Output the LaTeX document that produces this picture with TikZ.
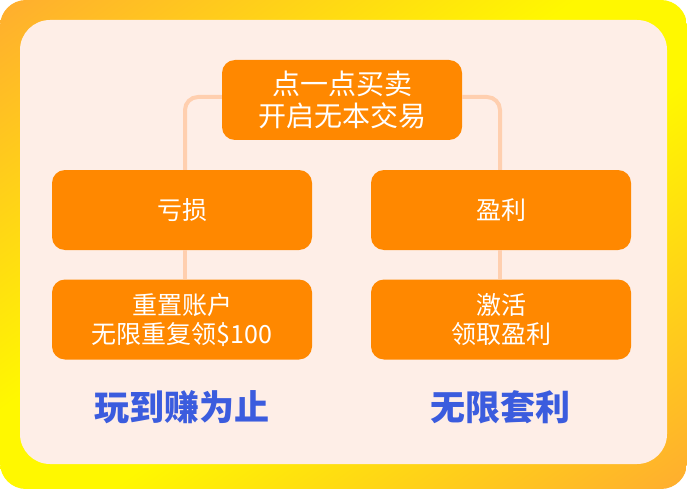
\documentclass[tikz,border=0pt]{standalone}
\usepackage{fontspec}
\newfontfamily\cjk{Noto Sans CJK SC}
\definecolor{bgorange}{HTML}{FFAD2F}
\definecolor{bgyellow}{HTML}{FFF800}
\definecolor{cream}{HTML}{FEEEE7}
\definecolor{boxorange}{HTML}{FF8800}
\definecolor{connpeach}{HTML}{FFCFAF}
\definecolor{titleblue}{HTML}{3B5CDE}
\pgfdeclarehorizontalshading{bgdiag}{100bp}{color(0bp)=(bgorange); color(25bp)=(bgorange); color(46bp)=(bgyellow); color(54bp)=(bgyellow); color(75bp)=(bgorange); color(100bp)=(bgorange)}
\tikzset{
  stepbox/.style={draw=none, fill=boxorange, rounded corners=13pt, minimum width=260pt, minimum height=80pt, inner sep=0pt, text=white, align=center, font={\cjk\fontsize{25}{29}\selectfont}},
  topbox/.style={stepbox, minimum width=240pt, font={\cjk\fontsize{28}{32}\selectfont}},
  conn/.style={draw=connpeach, line width=4pt, rounded corners=13pt},
  bigtitle/.style={text=titleblue, inner sep=0pt, font={\cjk\bfseries\fontsize{35}{40}\selectfont}}
}
\begin{document}
\begin{tikzpicture}[x=1pt,y=-1pt]
\useasboundingbox (0,0) rectangle (687,489);
\begin{scope}
\clip[rounded corners=26pt] (0,0) rectangle (687,489);
\begin{scope}[transform canvas={xscale=1.40491, rotate=-45}]
\shade[shading=bgdiag] (0,-350) rectangle (691.55,350);
\end{scope}
\end{scope}
\fill[cream, rounded corners=30pt] (20,20) rectangle (667,464);
\node[topbox] (top) at (342,100) {点一点买卖\\开启无本交易};
\node[stepbox] (l1) at (182,210) {亏损};
\node[stepbox] (l2) at (182,319.5) {重置账户\\无限重复领\$100};
\node[stepbox] (r1) at (501,210) {盈利};
\node[stepbox] (r2) at (501,319.5) {激活\\领取盈利};
\draw[conn] ([yshift=3pt]top.west) -| ([xshift=3pt]l1.north);
\draw[conn] ([yshift=3pt]top.east) -| ([xshift=-1pt]r1.north);
\draw[conn] ([xshift=3pt]l1.south) -- ([xshift=3pt]l2.north);
\draw[conn] ([xshift=-1pt]r1.south) -- ([xshift=-1pt]r2.north);
\node[bigtitle] (t1) at (182,407) {玩到赚为止};
\node[bigtitle] (t2) at (500,407) {无限套利};
\end{tikzpicture}
\end{document}
